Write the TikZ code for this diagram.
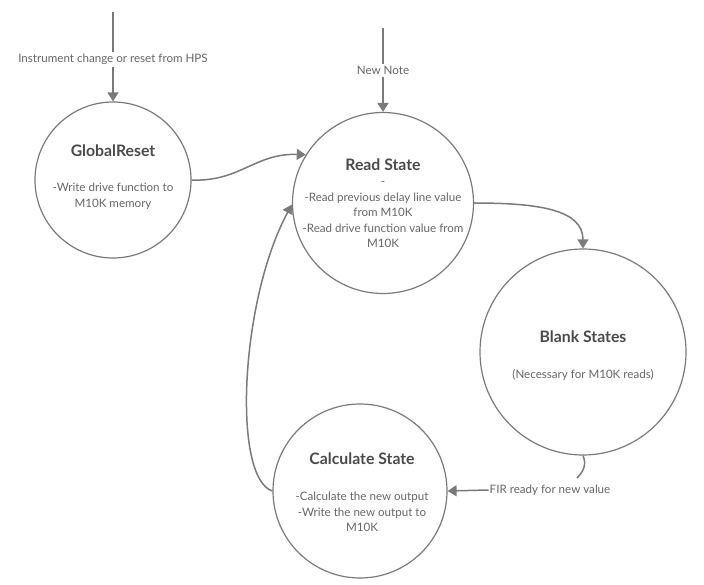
\documentclass[tikz,border=0pt]{standalone}
\usepackage{fontspec}
\setmainfont{Lato}
\usetikzlibrary{arrows.meta}
\definecolor{linegray}{HTML}{7A7A7A}
\definecolor{titlegray}{HTML}{4A4A4A}
\definecolor{textgray}{HTML}{666666}
\begin{document}
\begin{tikzpicture}[x=1pt,y=-1pt,
  statecircle/.style={draw=linegray,line width=1.2pt,circle,inner sep=0pt},
  titletext/.style={font=\fontsize{15.8}{18}\selectfont\bfseries,text=titlegray,inner sep=0pt},
  bodytext/.style={font=\fontsize{11.6}{15.5}\selectfont,text=textgray,align=center,inner sep=0pt},
  lbl/.style={font=\fontsize{11.6}{13}\selectfont,text=textgray,fill=white,inner sep=2pt},
  conn/.style={draw=linegray,line width=1.5pt},
  arr/.style={conn,-{Triangle[width=11pt,length=9pt]}}]
\useasboundingbox (0,0) rectangle (704,585);

% states
\node[statecircle,minimum size=156pt] (g) at (113,180) {};
\node[statecircle,minimum size=181pt] (rs) at (383,203) {};
\node[statecircle,minimum size=206pt] (bs) at (583,352) {};
\node[statecircle,minimum size=174pt] (cs) at (360,491) {};

% texts
\node[titletext] (gt) at (113,151) {GlobalReset};
\node[bodytext] (gb) at (113,196) {-Write drive function to\\M10K memory};

\node[titletext] (rt) at (383,165) {Read State};
\node[bodytext] (rb) at (383,215) {-\\-Read previous delay line value\\from M10K\\-Read drive function value from\\M10K};

\node[titletext] (bt) at (583,337) {Blank States};
\node[bodytext] (bb) at (583,375) {(Necessary for M10K reads)};

\node[titletext] (ct) at (362,459) {Calculate State};
\node[bodytext] (cb) at (362,512) {-Calculate the new output\\-Write the new output to\\M10K};

% incoming transitions
\coordinate (gin) at (113,12);
\draw[arr] (gin) -- node[lbl,pos=0.533] (l1) {Instrument change or reset from HPS} (g.north);
\coordinate (rin) at (383,28);
\draw[arr] (rin) -- node[lbl,pos=0.506] (l2) {New Note} (rs.north);

% transitions
\draw[arr] (g.east) .. controls (240,182) and (255,153) .. (rs.148);
\draw[arr] (rs.east) .. controls (540,203) and (583,210) .. (bs.north);
\coordinate (bsend) at (577,478);
\draw[conn] (bs.south) .. controls (587,465) and (583,472) .. (bsend);
\node[lbl,inner sep=1pt] (l3) at (550,490) {FIR ready for new value};
\draw[arr] (l3.west) -- (cs.east);
\draw[arr] (cs.west) .. controls (232,478) and (240,300) .. (rs.181);
\end{tikzpicture}
\end{document}
